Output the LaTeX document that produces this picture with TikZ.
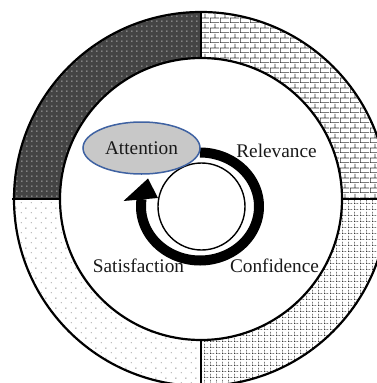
\documentclass[tikz,border=0pt]{standalone}
\usepackage{fontspec}
\setmainfont{Liberation Serif}
\usetikzlibrary{patterns,shapes.geometric}
\definecolor{darkq}{HTML}{444444}
\definecolor{ellfill}{HTML}{C8C8C8}
\definecolor{ellline}{HTML}{3F62A2}
\pgfdeclarepatternformonly{mydots}{\pgfqpoint{0pt}{0pt}}{\pgfqpoint{5pt}{4.5pt}}{\pgfqpoint{5pt}{4.5pt}}{%
  \pgfpathrectangle{\pgfqpoint{1.5pt}{1.5pt}}{\pgfqpoint{1.2pt}{1.2pt}}\pgfusepath{fill}}
\pgfdeclarepatternformonly{mybricks}{\pgfqpoint{0pt}{0pt}}{\pgfqpoint{10pt}{10pt}}{\pgfqpoint{10pt}{10pt}}{%
  \pgfsetlinewidth{0.8pt}%
  \pgfpathmoveto{\pgfqpoint{0pt}{0.4pt}}\pgfpathlineto{\pgfqpoint{10pt}{0.4pt}}%
  \pgfpathmoveto{\pgfqpoint{0pt}{5.4pt}}\pgfpathlineto{\pgfqpoint{10pt}{5.4pt}}%
  \pgfpathmoveto{\pgfqpoint{0.4pt}{0pt}}\pgfpathlineto{\pgfqpoint{0.4pt}{5pt}}%
  \pgfpathmoveto{\pgfqpoint{5.4pt}{5pt}}\pgfpathlineto{\pgfqpoint{5.4pt}{10pt}}%
  \pgfusepath{stroke}}
\pgfdeclarepatternformonly{mygrid}{\pgfqpoint{0pt}{0pt}}{\pgfqpoint{6pt}{6pt}}{\pgfqpoint{6pt}{6pt}}{%
  \pgfpathrectangle{\pgfqpoint{0pt}{0pt}}{\pgfqpoint{0.9pt}{0.9pt}}%
  \pgfpathrectangle{\pgfqpoint{2pt}{0pt}}{\pgfqpoint{0.9pt}{0.9pt}}%
  \pgfpathrectangle{\pgfqpoint{4pt}{0pt}}{\pgfqpoint{0.9pt}{0.9pt}}%
  \pgfpathrectangle{\pgfqpoint{0pt}{2pt}}{\pgfqpoint{0.9pt}{0.9pt}}%
  \pgfpathrectangle{\pgfqpoint{0pt}{4pt}}{\pgfqpoint{0.9pt}{0.9pt}}%
  \pgfusepath{fill}}
\pgfdeclarepatternformonly{mysparse}{\pgfqpoint{0pt}{0pt}}{\pgfqpoint{10pt}{10pt}}{\pgfqpoint{10pt}{10pt}}{%
  \pgfpathrectangle{\pgfqpoint{1pt}{1pt}}{\pgfqpoint{0.9pt}{0.9pt}}%
  \pgfpathrectangle{\pgfqpoint{6pt}{6pt}}{\pgfqpoint{0.9pt}{0.9pt}}%
  \pgfusepath{fill}}
\tikzset{
  ringline/.style={line width=2.2pt, black},
  lbl/.style={font=\fontsize{19.3}{22}\selectfont, text=black!90, inner sep=0pt, anchor=base},
}
\begin{document}
\begin{tikzpicture}[x=1pt,y=-1pt]
\useasboundingbox (0,0) rectangle (377,383);
\clip (0,0) rectangle (377,383);
\coordinate (c) at (201,199);
% quadrants
\begin{scope}\clip (c) rectangle (0,0);
  \fill[darkq, even odd rule] (c) circle[radius=187] (c) circle[radius=141];
  \fill[pattern=mydots, pattern color=white!85!black, even odd rule] (c) circle[radius=187] (c) circle[radius=141];
\end{scope}
\begin{scope}\clip (c) rectangle (400,0);
  \fill[pattern=mybricks, pattern color=black!80, even odd rule] (c) circle[radius=187] (c) circle[radius=141];
\end{scope}
\begin{scope}\clip (c) rectangle (400,400);
  \fill[pattern=mygrid, pattern color=black!80, even odd rule] (c) circle[radius=187] (c) circle[radius=141];
\end{scope}
\begin{scope}\clip (c) rectangle (0,400);
  \fill[pattern=mysparse, pattern color=black!60, even odd rule] (c) circle[radius=187] (c) circle[radius=141];
\end{scope}
% ring outlines
\draw[ringline] (c) circle[radius=187];
\draw[ringline] (c) circle[radius=141];
\draw[ringline] (201,12) -- (201,58);
\draw[ringline] (201,340) -- (201,390);
\draw[ringline] (12,199) -- (60,199);
\draw[ringline] (342,199) -- (390,199);
% inner thin circle
\draw[line width=1.4pt] (201.5,206.5) circle[radius=43.5];
% thick circular arrow
\draw[line width=10pt] plot[domain=-90:188, samples=120, smooth] ({200+59*cos(\x)}, {206.5+54*sin(\x)});
\fill (123.5,201) -- (148,178.5) -- (158,198) -- cycle;
% Attention ellipse
\node[ellipse, draw=ellline, line width=1.5pt, fill=ellfill, minimum width=117pt, minimum height=52pt, inner sep=0pt,
      font=\fontsize{19.3}{22}\selectfont, text=black!90] (att) at (141.5,148) {Attention};
% labels
\node[lbl] (rel) at (276.5,157) {Relevance};
\node[lbl] (sat) at (138.5,272.5) {Satisfaction};
\node[lbl] (con) at (274.5,272) {Confidence};
\end{tikzpicture}
\end{document}
